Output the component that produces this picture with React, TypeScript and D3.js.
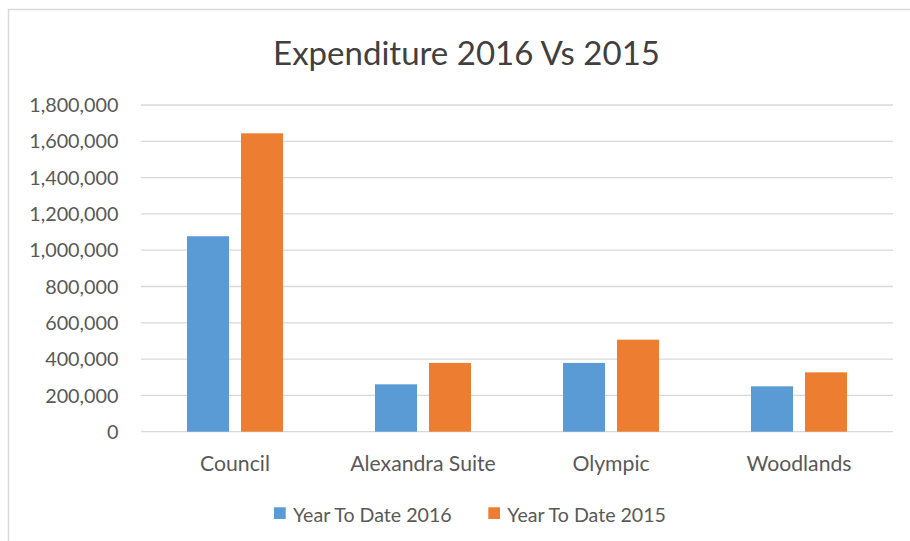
import React from "react";
import * as d3 from "d3";

const categories = ["Council", "Alexandra Suite", "Olympic", "Woodlands"];
const seriesNames = ["Year To Date 2016", "Year To Date 2015"];
const ytd2016 = [1077000, 261000, 379000, 250000];
const ytd2015 = [1644000, 379000, 507000, 327000];
const yTicks = [0, 200000, 400000, 600000, 800000, 1000000, 1200000, 1400000, 1600000, 1800000];
const colors = ["#5B9BD5", "#ED7D31"];
const title = "Expenditure 2016 Vs 2015";

const W = 910;
const H = 541;
const plotLeft = 141;
const plotRight = 893;
const plotTop = 105;
const plotBottom = 431.7;
const font = "Lato, 'Noto Sans', sans-serif";

export default function App() {
  const x0 = d3
    .scaleBand<string>()
    .domain(categories)
    .range([plotLeft, plotRight])
    .paddingInner(92 / 188)
    .paddingOuter(46 / 188);
  const x1 = d3
    .scaleBand<string>()
    .domain(seriesNames)
    .range([0, x0.bandwidth()])
    .paddingInner(12 / 54);
  const y = d3.scaleLinear().domain([0, 1800000]).range([plotBottom, plotTop]);
  const fmt = d3.format(",");
  const values = [ytd2016, ytd2015];

  const legendX = [274, 488.3];

  return (
    <svg
      width={W}
      height={H}
      style={{ position: "absolute", left: 0, top: 0, background: "#fff" }}
      fontFamily={font}
    >
      <rect x={0} y={0} width={W} height={H} fill="#fff" />
      <rect x={8.5} y={9.5} width={W + 10} height={H + 10} fill="#fff" stroke="#d9d9d9" strokeWidth={1.5} />
      <text x={466.5} y={65} textAnchor="middle" fontSize={33} fill="#404040">
        {title}
      </text>
      {yTicks.map((t) => (
        <g key={t}>
          <line x1={plotLeft} x2={plotRight} y1={y(t)} y2={y(t)} stroke="#d9d9d9" strokeWidth={1.3} />
          <text x={118.5} y={y(t)} dy="0.36em" textAnchor="end" fontSize={19.8} fill="#595959">
            {fmt(t)}
          </text>
        </g>
      ))}
      {categories.map((c, i) => (
        <g key={c}>
          {seriesNames.map((s, j) => (
            <rect
              key={s}
              x={(x0(c) as number) + (x1(s) as number)}
              y={y(values[j][i])}
              width={x1.bandwidth()}
              height={plotBottom - y(values[j][i])}
              fill={colors[j]}
            />
          ))}
          <text
            x={(x0(c) as number) + x0.bandwidth() / 2}
            y={471}
            textAnchor="middle"
            fontSize={21.2}
            fill="#595959"
          >
            {c}
          </text>
        </g>
      ))}
      {seriesNames.map((s, j) => (
        <g key={s}>
          <rect x={legendX[j]} y={507.3} width={11.7} height={11.7} fill={colors[j]} />
          <text x={legendX[j] + 19} y={521.7} fontSize={19.6} fill="#595959">
            {s}
          </text>
        </g>
      ))}
    </svg>
  );
}
